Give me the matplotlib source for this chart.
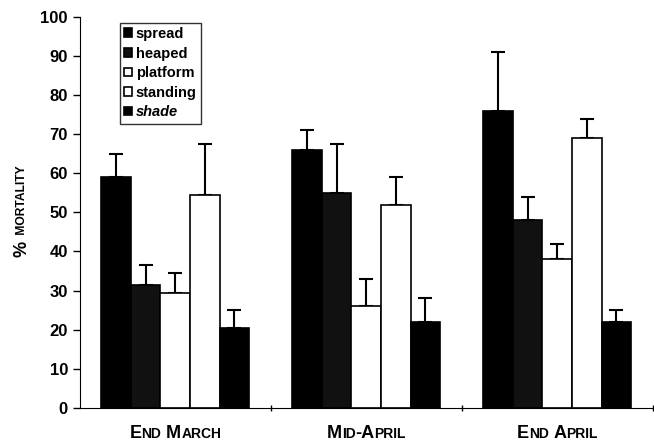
import matplotlib
matplotlib.use("Agg")
import matplotlib.pyplot as plt
import numpy as np
from matplotlib import transforms

plt.rcParams['font.family'] = ['Liberation Sans', 'DejaVu Sans']

categories = ["End March", "Mid-April", "End April"]
series = ["spread", "heaped", "platform", "standing", "shade"]
spread = [59, 66, 76]
heaped = [31.5, 55, 48]
platform = [29.5, 26, 38]
standing = [54.5, 52, 69]
shade = [20.5, 22, 22]
spread_err = [6, 5, 15]
heaped_err = [5, 12.5, 6]
platform_err = [5, 7, 4]
standing_err = [13, 7, 5]
shade_err = [4.5, 6, 3]

values = [spread, heaped, platform, standing, shade]
errors = [spread_err, heaped_err, platform_err, standing_err, shade_err]
colors = ["#000000", "#111111", "#ffffff", "#ffffff", "#000000"]

fig = plt.figure(figsize=(6.54, 4.42), dpi=100)
ax = fig.add_axes([0.122, 0.077, 0.876, 0.885])

x = np.arange(len(categories))
w = 0.155
for i, (vals, errs, c) in enumerate(zip(values, errors, colors)):
    pos = x + (i - 2) * w
    ax.bar(pos, vals, width=w, color=c, edgecolor="black", linewidth=1.2,
           label=series[i], zorder=2)
    ax.errorbar(pos, vals, yerr=[np.zeros(len(errs)), errs], fmt="none",
                ecolor="black", elinewidth=1.5, capsize=5, capthick=1.5, zorder=1)

ax.set_xlim(-0.5, 2.5)
ax.set_ylim(0, 100)
ax.set_yticks(range(0, 101, 10))
ax.tick_params(axis='y', labelsize=12, length=5, width=1)
for lab in ax.get_yticklabels():
    lab.set_fontweight('bold')
ax.set_xticks([0.5, 1.5, 2.5])
ax.set_xticklabels([])
ax.tick_params(axis='x', length=5, width=1, direction='inout')
ax.spines['top'].set_visible(False)
ax.spines['right'].set_visible(False)


def smallcaps(ax, text, xc, y, big=12, small=9, transform=None):
    fig = ax.figure
    fig.canvas.draw()
    r = fig.canvas.get_renderer()
    pieces = []
    for word_i, word in enumerate(text.split(" ")):
        if word_i > 0:
            pieces.append((" ", big))
        for ch in word:
            if ch.isupper() or not ch.isalpha():
                pieces.append((ch.upper(), big))
            else:
                pieces.append((ch.upper(), small))
    merged = []
    for s, sz in pieces:
        if merged and merged[-1][1] == sz:
            merged[-1] = (merged[-1][0] + s, sz)
        else:
            merged.append((s, sz))
    widths = []
    for s, sz in merged:
        t = fig.text(0, 0, s.replace(" ", "\u00a0"), fontsize=sz, fontweight='bold')
        bb = t.get_window_extent(r)
        widths.append(bb.width)
        t.remove()
    total = sum(widths)
    off = -total / 2
    for (s, sz), wd in zip(merged, widths):
        tr = transforms.offset_copy(transform, fig=fig, x=off * 72 / fig.dpi, y=0, units='points')
        ax.text(xc, y, s.replace(" ", "\u00a0"), fontsize=sz, fontweight='bold',
                transform=tr, ha='left', va='baseline')
        off += wd


for xi, cat in zip(x, categories):
    smallcaps(ax, cat, xi, -7.7, big=13, small=10, transform=ax.transData)

# y label (small caps)
fig.text(0.034, 0.455, "%", fontsize=13, fontweight='bold', rotation=90,
         ha='center', va='top')
fig.text(0.034, 0.455 + 0.006, "\u00a0MORTALITY", fontsize=8.7, fontweight='bold',
         rotation=90, ha='center', va='bottom')

leg = ax.legend(loc='upper left', bbox_to_anchor=(0.07, 0.985), frameon=True,
                fancybox=False, edgecolor='black', handlelength=0.55, handleheight=0.55,
                handletextpad=0.25, borderpad=0.3, labelspacing=0.38,
                prop={'weight': 'bold', 'size': 10.5}, borderaxespad=0)
leg.get_frame().set_linewidth(1)
for txt in leg.get_texts():
    if txt.get_text() == "shade":
        txt.set_fontstyle('italic')

fig.savefig("out.png", dpi=100)
